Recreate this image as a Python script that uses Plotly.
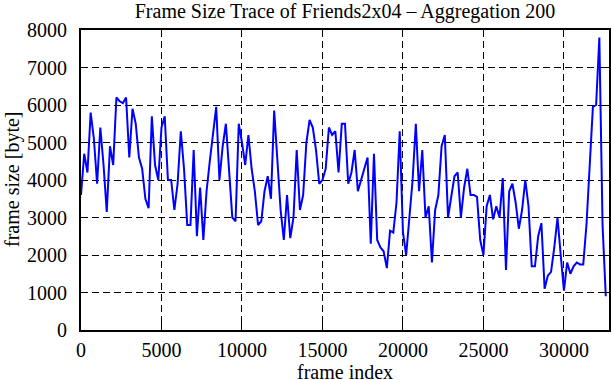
import plotly.graph_objects as go

title_text = "Frame Size Trace of Friends2x04 \u2013 Aggregation 200"
x_label = "frame index"
y_label = "frame size [byte]"

aggregation_step = 200
frame_size = [
    3600, 4700, 4200, 5800, 5100, 3900, 5400, 4400, 3150, 4900,
    4400, 6200, 6100, 6050, 6200, 4600, 5900, 5500, 4600, 4300,
    3500, 3250, 5700, 4400, 4000, 5400, 5700, 4000, 4000, 3200,
    3900, 5300, 4300, 2800, 2800, 4800, 2500, 3800, 2400, 3700,
    4500, 5300, 5950, 4000, 4900, 5500, 4100, 3000, 2900, 5500,
    5000, 4400, 5200, 4300, 3700, 2800, 2900, 3700, 4100, 3500,
    5850, 4600, 3200, 2400, 3600, 2450, 3000, 4800, 3200, 3600,
    5000, 5600, 5400, 4800, 3900, 4000, 4300, 5400, 5200, 5300,
    4200, 5500, 5500, 3900, 4200, 4800, 3700, 4000, 4300, 4600,
    2300, 4700, 2400, 2200, 2100, 1650, 2650, 2600, 3400, 5300,
    2600, 2000, 3000, 4000, 5500, 3700, 4800, 3000, 3300, 1800,
    3200, 3600, 4900, 5200, 3000, 3500, 4100, 4200, 3000, 3800,
    4300, 3600, 3600, 3550, 2400, 2000, 3300, 3600, 2950, 3300,
    3000, 4050, 1600, 3700, 3900, 3400, 2700, 3200, 4000, 3300,
    1700, 1700, 2500, 2850, 1100, 1450, 1550, 2200, 3000, 2000,
    1050, 1800, 1500, 1700, 1800, 1750, 1750, 2800, 4300, 5950,
    6000, 7800, 2800, 900,
]
frame_index = [i * aggregation_step for i in range(len(frame_size))]

x_ticks = [0, 5000, 10000, 15000, 20000, 25000, 30000]
y_ticks = [0, 1000, 2000, 3000, 4000, 5000, 6000, 7000, 8000]

font_family = "Liberation Serif, Times New Roman, serif"

fig = go.Figure()
fig.add_trace(go.Scatter(
    x=frame_index, y=frame_size, mode="lines",
    line=dict(color="#0000ff", width=2),
    showlegend=False, hoverinfo="skip",
))

axis_common = dict(
    showline=True, linecolor="black", linewidth=2, mirror="ticks",
    ticks="inside", ticklen=7, tickcolor="black", tickwidth=1,
    showgrid=True, gridcolor="black", gridwidth=1, griddash="7px,4px",
    zeroline=False, automargin=False,
    tickfont=dict(family=font_family, size=20, color="black"),
)

fig.update_layout(
    width=611, height=380,
    margin=dict(l=81, r=2, t=30, b=50),
    paper_bgcolor="white", plot_bgcolor="white",
    font=dict(family=font_family, size=20, color="black"),
    title=dict(text=title_text, x=0.5, xref="paper", xanchor="center",
               y=1 - 11 / 380, yref="container", yanchor="middle",
               font=dict(family=font_family, size=20, color="black"),
               pad=dict(t=0, b=0)),
    xaxis=dict(range=[0, 32800], tickvals=x_ticks,
               ticktext=[str(v) for v in x_ticks],
               ticklabelstandoff=1, **axis_common),
    yaxis=dict(range=[0, 8000], tickvals=y_ticks,
               ticktext=[str(v) for v in y_ticks],
               ticklabelstandoff=8, **axis_common),
    annotations=[
        dict(text=x_label, xref="paper", yref="paper", x=0.5, y=-41.5 / 300,
             xanchor="center", yanchor="middle", showarrow=False,
             font=dict(family=font_family, size=20, color="black")),
        dict(text=y_label, xref="paper", yref="paper", x=-69 / 528, y=0.5,
             xanchor="center", yanchor="middle", showarrow=False,
             textangle=-90,
             font=dict(family=font_family, size=20, color="black")),
    ],
)

fig.write_html(
    "out.html",
    config={"displayModeBar": False},
    post_script="document.body.style.margin='0';document.body.style.padding='0';",
)
